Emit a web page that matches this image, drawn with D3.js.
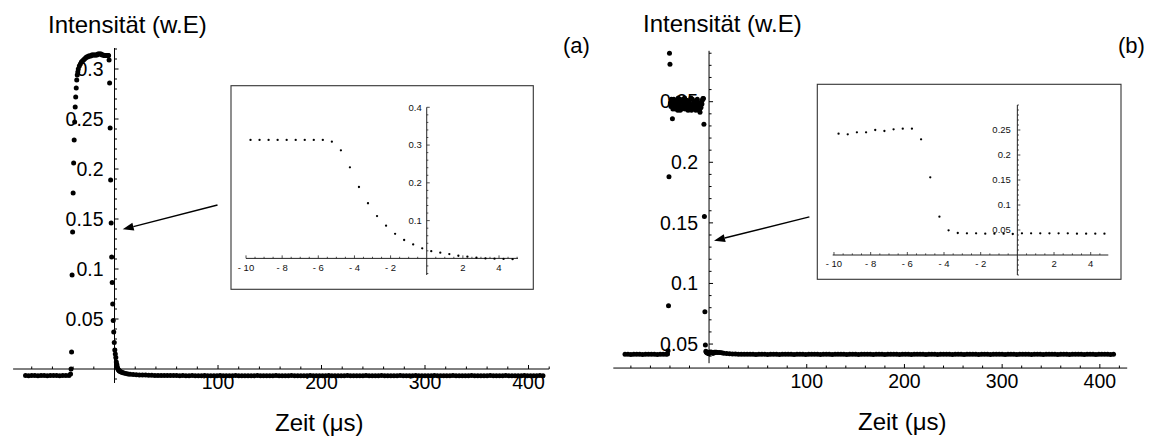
<!DOCTYPE html>
<html><head><meta charset="utf-8">
<script src="https://cdn.jsdelivr.net/npm/d3@7"></script>
<style>
body{margin:0;background:#fff}
svg{display:block}
text{font-family:"Liberation Sans",Arial,Helvetica,sans-serif}
</style>
</head><body>
<svg id="c" width="1151" height="437"></svg>
<script>
// ---------------- DATA ----------------
const yTitle = "Intensität (w.E)";
const xTitle = "Zeit (μs)";
const panelLabels = ["(a)", "(b)"];
const xMajorTicks = [100, 200, 300, 400];
const xMajorLabels = ["100", "200", "300", "400"];
const yMajorTicksA = [0.05, 0.1, 0.15, 0.2, 0.25, 0.3];
const yMajorLabelsA = ["0.05", "0.1", "0.15", "0.2", "0.25", "0.3"];
const yMajorTicksB = [0.05, 0.1, 0.15, 0.2, 0.25];
const yMajorLabelsB = ["0.05", "0.1", "0.15", "0.2", "0.25"];
const insetXTicks = [-10, -8, -6, -4, -2, 2, 4];
const insetXLabels = ["- 10", "- 8", "- 6", "- 4", "- 2", "2", "4"];
const insetYTicksA = [0.1, 0.2, 0.3, 0.4];
const insetYLabelsA = ["0.1", "0.2", "0.3", "0.4"];
const insetYTicksB = [0.05, 0.1, 0.15, 0.2, 0.25];
const insetYLabelsB = ["0.05", "0.1", "0.15", "0.2", "0.25"];

// panel (a): [time µs, intensity]
const preA = [[-86,-0.0066],[-83,-0.0067],[-80,-0.0066],[-77,-0.0066],[-74,-0.0067],[-71,-0.0066],[-68,-0.0066],[-65,-0.0067],[-62,-0.0066],[-59,-0.0066],[-56,-0.0066],[-53,-0.0067],[-50,-0.0066],[-47,-0.0066],[-44,-0.0065],[-42.5,-0.005]];
const riseA = [[-42,0.0],[-41.5,0.017],[-41,0.094],[-40.5,0.137],[-40,0.176],[-39.5,0.206],[-39,0.229],[-38.5,0.247],[-38,0.262],[-37.5,0.272],[-37,0.281],[-36.5,0.289],[-36,0.294],[-35.5,0.297],[-35,0.300]];
const plateauA = [[-34,0.303],[-33,0.305],[-32,0.307],[-31,0.308],[-30,0.309],[-29,0.310],[-28,0.311],[-27,0.312],[-26,0.312],[-25,0.313],[-24,0.313],[-23,0.313],[-22,0.314],[-21,0.314],[-20,0.314],[-19,0.314],[-18,0.314],[-17,0.314],[-16,0.315],[-15,0.315],[-14,0.315],[-13,0.315],[-12,0.314],[-11,0.314]];
const fallA = [[-9.75,0.3135],[-9.25,0.3135],[-8.75,0.3135],[-8.25,0.3135],[-7.75,0.3135],[-7.25,0.3135],[-6.75,0.3135],[-6.25,0.3135],[-5.75,0.3135],[-5.25,0.309],[-4.75,0.286],[-4.25,0.241],[-3.75,0.189],[-3.25,0.146],[-2.75,0.112],[-2.25,0.0865],[-1.75,0.065],[-1.25,0.0486],[-0.75,0.037],[-0.25,0.0265],[0.25,0.019],[0.75,0.015],[1.25,0.0115],[1.75,0.007],[2.25,0.0044],[2.75,0.002],[3.25,0.0],[3.75,-0.0008],[4.25,-0.0015],[4.75,-0.002]];
const decayA = [[5.5,-0.0025],[6.5,-0.003],[7.5,-0.0035],[9,-0.004],[11,-0.0045],[13,-0.005],[15,-0.0052],[18,-0.0055],[21,-0.0057],[24,-0.0059],[27,-0.006],[30,-0.0061],[33,-0.0062],[36,-0.0063]];

// panel (b)
const preB = [[-86,0.0415],[-83,0.0416],[-80,0.0414],[-77,0.0415],[-74,0.0416],[-71,0.0415],[-68,0.0414],[-65,0.0416],[-62,0.0415],[-59,0.0415],[-56,0.0416],[-53,0.0414],[-50,0.0415],[-47,0.0416],[-44,0.0415],[-42.5,0.0418]];
const riseB = [[-42,0.0445],[-41.5,0.0816],[-41,0.188],[-40.5,0.290],[-40,0.281]];
const plateauB = [[-39.5,0.249],[-39,0.246],[-38.5,0.252],[-38,0.250],[-37.5,0.236],[-37,0.244],[-36.5,0.247],[-36,0.252],[-35.5,0.251],[-35,0.248],[-34.5,0.244],[-34,0.245],[-33.5,0.250],[-33,0.251],[-32.5,0.246],[-32,0.243],[-31.5,0.253],[-31,0.249],[-30.5,0.248],[-30,0.252],[-29.5,0.243],[-29,0.246],[-28.5,0.250],[-28,0.244],[-27.5,0.245],[-27,0.250],[-26.5,0.252],[-26,0.248],[-25.5,0.247],[-25,0.253],[-24.5,0.244],[-24,0.245],[-23.5,0.251],[-23,0.247],[-22.5,0.249],[-22,0.251],[-21.5,0.243],[-21,0.244],[-20.5,0.250],[-20,0.249],[-19.5,0.246],[-19,0.247],[-18.5,0.253],[-18,0.243],[-17.5,0.247],[-17,0.252],[-16.5,0.244],[-16,0.246],[-15.5,0.250],[-15,0.250],[-14.5,0.248],[-14,0.245],[-13.5,0.243],[-13,0.248],[-12.5,0.251],[-12,0.252],[-11.5,0.246],[-11,0.244],[-10.5,0.249]];
const fallB = [[-9.75,0.2427],[-9.25,0.2413],[-8.75,0.2453],[-8.25,0.2453],[-7.75,0.25],[-7.25,0.248],[-6.75,0.2513],[-6.25,0.2527],[-5.75,0.2527],[-5.25,0.2313],[-4.75,0.1553],[-4.25,0.0767],[-3.75,0.0493],[-3.25,0.044],[-2.75,0.0433],[-2.25,0.0433],[-1.75,0.0427],[-1.25,0.0427],[-0.75,0.0427],[-0.25,0.042],[0.25,0.0433],[0.75,0.0433],[1.25,0.0433],[1.75,0.0433],[2.25,0.0433],[2.75,0.0433],[3.25,0.0427],[3.75,0.0427],[4.25,0.0427],[4.75,0.0427]];
const decayB = [[5.5,0.0433],[6.5,0.0433],[7.5,0.0432],[9,0.043],[11,0.043],[13,0.0428],[15,0.0425],[18,0.0422],[21,0.042],[24,0.0418],[27,0.0417],[30,0.0416],[33,0.0416],[36,0.0415]];

// long flat tail (shared sampling times)
const tailTimes = [
39,42,45,48,51,54,57,60,63,66,
69,72,75,78,81,84,87,90,93,96,
99,102,105,108,111,114,117,120,123,126,
129,132,135,138,141,144,147,150,153,156,
159,162,165,168,171,174,177,180,183,186,
189,192,195,198,201,204,207,210,213,216,
219,222,225,228,231,234,237,240,243,246,
249,252,255,258,261,264,267,270,273,276,
279,282,285,288,291,294,297,300,303,306,
309,312,315,318,321,324,327,330,333,336,
339,342,345,348,351,354,357,360,363,366,
369,372,375,378,381,384,387,390,393,396,
399,402,405,408,411,414];
const tailValuesA = [
-0.0064,-0.0064,-0.0065,-0.0065,-0.0066,-0.0066,-0.0066,-0.0066,-0.0067,-0.0066,
-0.0067,-0.0067,-0.0066,-0.0067,-0.0067,-0.0067,-0.0066,-0.0067,-0.0067,-0.0067,
-0.0067,-0.0066,-0.0067,-0.0067,-0.0067,-0.0067,-0.0066,-0.0067,-0.0067,-0.0067,
-0.0067,-0.0067,-0.0067,-0.0066,-0.0067,-0.0067,-0.0067,-0.0067,-0.0067,-0.0066,
-0.0067,-0.0067,-0.0067,-0.0067,-0.0066,-0.0067,-0.0067,-0.0067,-0.0067,-0.0067,
-0.0066,-0.0067,-0.0067,-0.0067,-0.0067,-0.0067,-0.0066,-0.0067,-0.0067,-0.0067,
-0.0067,-0.0067,-0.0066,-0.0067,-0.0067,-0.0067,-0.0067,-0.0067,-0.0066,-0.0067,
-0.0067,-0.0067,-0.0067,-0.0066,-0.0067,-0.0067,-0.0067,-0.0067,-0.0067,-0.0066,
-0.0067,-0.0067,-0.0067,-0.0067,-0.0066,-0.0067,-0.0067,-0.0067,-0.0067,-0.0067,
-0.0066,-0.0067,-0.0067,-0.0067,-0.0067,-0.0067,-0.0066,-0.0067,-0.0067,-0.0067,
-0.0067,-0.0067,-0.0066,-0.0067,-0.0067,-0.0067,-0.0067,-0.0067,-0.0066,-0.0067,
-0.0067,-0.0067,-0.0067,-0.0066,-0.0067,-0.0067,-0.0067,-0.0067,-0.0067,-0.0066,
-0.0067,-0.0067,-0.0067,-0.0067,-0.0066,-0.0067];
const tailValuesB = [
0.0415,0.0416,0.0415,0.0414,0.0416,0.0415,0.0416,0.0414,0.0415,0.0416,
0.0415,0.0414,0.0416,0.0415,0.0415,0.0416,0.0414,0.0415,0.0416,0.0415,
0.0414,0.0416,0.0415,0.0415,0.0416,0.0414,0.0415,0.0416,0.0415,0.0414,
0.0416,0.0415,0.0415,0.0416,0.0414,0.0415,0.0416,0.0415,0.0414,0.0416,
0.0415,0.0415,0.0416,0.0414,0.0415,0.0416,0.0415,0.0414,0.0416,0.0415,
0.0415,0.0416,0.0414,0.0415,0.0416,0.0415,0.0414,0.0416,0.0415,0.0415,
0.0416,0.0414,0.0415,0.0416,0.0415,0.0414,0.0416,0.0415,0.0415,0.0416,
0.0414,0.0415,0.0416,0.0415,0.0414,0.0416,0.0415,0.0415,0.0416,0.0414,
0.0415,0.0416,0.0415,0.0414,0.0416,0.0415,0.0415,0.0416,0.0414,0.0415,
0.0416,0.0415,0.0414,0.0416,0.0415,0.0415,0.0416,0.0414,0.0415,0.0416,
0.0415,0.0414,0.0416,0.0415,0.0415,0.0416,0.0414,0.0415,0.0416,0.0415,
0.0414,0.0416,0.0415,0.0415,0.0416,0.0414,0.0415,0.0416,0.0415,0.0414,
0.0416,0.0415,0.0415,0.0416,0.0414,0.0415];

// arrow annotations (data units of the main panels): from -> to
const arrowA = [[99.5, 0.164], [7.9, 0.1397]];
const arrowB = [[102.7, 0.155], [5.1, 0.1353]];

// ---------------- DRAW ----------------
const svg = d3.select("#c");
const seriesA = [].concat(preA, riseA, plateauA, fallA, decayA, d3.zip(tailTimes, tailValuesA));
const seriesB = [].concat(preB, riseB, plateauB, fallB, decayB, d3.zip(tailTimes, tailValuesB));

function line(g, x1, y1, x2, y2, color, w) {
  g.append("line").attr("x1", x1).attr("y1", y1).attr("x2", x2).attr("y2", y2)
    .attr("stroke", color || "#000").attr("stroke-width", w || 1);
}

function drawMain(cfg) {
  const g = svg.append("g");
  const x = d3.scaleLinear().domain(cfg.xDom).range(cfg.xRange);
  const y = d3.scaleLinear().domain(cfg.yDom).range(cfg.yRange);
  const ax = x(0), ay = y(cfg.xAxisAt);
  line(g, x(cfg.xDom[0]), ay, x(cfg.xDom[1]), ay, "#000", 1);
  line(g, ax, y(cfg.yDom[0]), ax, y(cfg.yDom[1]), "#000", 1);
  d3.range(-80, cfg.xDom[1] + 1, 20).filter(v => v !== 0).forEach(v => {
    const major = xMajorTicks.includes(v);
    line(g, x(v), ay, x(v), ay - (major ? 4 : 2.5), "#000", 1);
  });
  xMajorTicks.forEach((v, i) => {
    g.append("text").attr("x", x(v)).attr("y", ay + 20).attr("text-anchor", "middle")
      .attr("font-size", 19.5).text(xMajorLabels[i]);
  });
  const lo = Math.ceil(cfg.yDom[0] * 100), hi = Math.floor(cfg.yDom[1] * 100);
  d3.range(lo, hi + 1).forEach(k => {
    const v = k / 100;
    const major = cfg.yTicks.some(t => Math.abs(t - v) < 1e-9);
    line(g, ax, y(v), ax + (major ? 4 : 2.5), y(v), "#000", 1);
  });
  cfg.yTicks.forEach((v, i) => {
    g.append("text").attr("x", ax - 11).attr("y", y(v) + 6.8).attr("text-anchor", "end")
      .attr("font-size", 19.5).text(cfg.yLabels[i]);
  });
  g.append("text").attr("x", cfg.titlePos[0]).attr("y", cfg.titlePos[1]).attr("font-size", 24).text(yTitle);
  g.append("text").attr("x", cfg.xTitlePos[0]).attr("y", cfg.xTitlePos[1]).attr("font-size", 24).text(xTitle);
  g.append("text").attr("x", cfg.letterPos[0]).attr("y", cfg.letterPos[1]).attr("font-size", 22).text(cfg.letter);
  g.append("g").selectAll("circle").data(cfg.data).join("circle")
    .attr("cx", d => x(d[0])).attr("cy", d => y(d[1])).attr("r", 2.5).attr("fill", "#000");
  const [p0, p1] = cfg.arrow;
  const X0 = x(p0[0]), Y0 = y(p0[1]), X1 = x(p1[0]), Y1 = y(p1[1]);
  const ang = Math.atan2(Y1 - Y0, X1 - X0);
  const L = 11, W = 4;
  const bx = X1 - L * Math.cos(ang), by = Y1 - L * Math.sin(ang);
  line(g, X0, Y0, bx, by, "#000", 1.4);
  g.append("polygon").attr("points", [
    [X1, Y1],
    [bx + W * Math.sin(ang), by - W * Math.cos(ang)],
    [bx - W * Math.sin(ang), by + W * Math.cos(ang)]
  ].map(p => p.join(",")).join(" ")).attr("fill", "#000");
}

function drawInset(cfg) {
  const g = svg.append("g");
  g.append("rect").attr("x", cfg.box[0]).attr("y", cfg.box[1]).attr("width", cfg.box[2]).attr("height", cfg.box[3])
    .attr("fill", "#fff").attr("stroke", "#333").attr("stroke-width", 1.1);
  const x = d3.scaleLinear().domain(cfg.xDom).range(cfg.xRange);
  const y = d3.scaleLinear().domain(cfg.yDom).range(cfg.yRange);
  const ax = x(0), ay = y(0);
  line(g, x(cfg.xDom[0]), ay, x(cfg.xDom[1]), ay, "#222", 1);
  line(g, ax, y(cfg.yDom[0]), ax, y(cfg.yDom[1]), "#222", 1);
  d3.range(-20, 11).map(k => k / 2).filter(v => v >= cfg.xDom[0] - 1e-9 && v <= cfg.xDom[1] && v !== 0).forEach(v => {
    const major = insetXTicks.includes(v);
    line(g, x(v), ay, x(v), ay - (major ? 3 : 1.6), "#222", 0.8);
  });
  insetXTicks.forEach((v, i) => {
    g.append("text").attr("x", x(v)).attr("y", ay + cfg.xLabelOff).attr("text-anchor", "middle")
      .attr("font-size", 9.5).attr("fill", "#111").text(insetXLabels[i]);
  });
  const step = cfg.yMinor;
  d3.range(Math.ceil(cfg.yDom[0] / step), Math.floor(cfg.yDom[1] / step + 1e-6) + 1).forEach(k => {
    const v = k * step;
    if (Math.abs(v) < 1e-9) return;
    const major = cfg.yTicks.some(t => Math.abs(t - v) < 1e-9);
    line(g, ax, y(v), ax + (major ? 3 : 1.6), y(v), "#222", 0.8);
  });
  cfg.yTicks.forEach((v, i) => {
    g.append("text").attr("x", ax - cfg.yLabelGap).attr("y", y(v) + 3.3).attr("text-anchor", "end")
      .attr("font-size", 9.5).attr("fill", "#111").text(cfg.yLabels[i]);
  });
  g.append("g").selectAll("circle").data(cfg.data.filter(d => d[0] > -10 && d[0] < 5)).join("circle")
    .attr("cx", d => x(d[0])).attr("cy", d => y(d[1])).attr("r", 1.15).attr("fill", "#000");
}

drawMain({
  xDom: [-98, 420], xRange: [13.1, 549.2],
  yDom: [-0.014, 0.321], yRange: [383, 48],
  xAxisAt: 0, yTicks: yMajorTicksA, yLabels: yMajorLabelsA,
  titlePos: [48, 33], xTitlePos: [275, 431], letterPos: [563, 53], letter: panelLabels[0],
  data: seriesA, arrow: arrowA
});
drawMain({
  xDom: [-98, 428], xRange: [613.3, 1127.2],
  yDom: [0.0342, 0.292], yRange: [363.2, 50.8],
  xAxisAt: 0.0302, yTicks: yMajorTicksB, yLabels: yMajorLabelsB,
  titlePos: [643, 32], xTitlePos: [858, 430], letterPos: [1118, 53], letter: panelLabels[1],
  data: seriesB, arrow: arrowB
});
drawInset({
  box: [231, 85.7, 302.3, 203.6],
  xDom: [-10, 5.05], xRange: [246, 518],
  yDom: [-0.044, 0.4], yRange: [275, 107.3],
  yMinor: 0.02, yTicks: insetYTicksA, yLabels: insetYLabelsA,
  xLabelOff: 13, yLabelGap: 5, data: seriesA
});
drawInset({
  box: [817.3, 84.3, 303.7, 195],
  xDom: [-10.07, 4.96], xRange: [832.7, 1108.3],
  yDom: [-0.04, 0.3], yRange: [275, 105],
  yMinor: 0.01, yTicks: insetYTicksB, yLabels: insetYLabelsB,
  xLabelOff: 11.5, yLabelGap: 6.5, data: seriesB
});
</script>
</body></html>
